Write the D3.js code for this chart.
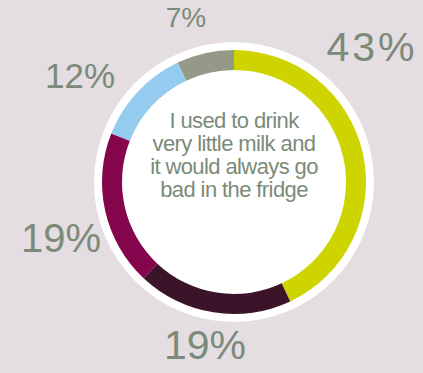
<!DOCTYPE html>
<html>
<head>
<meta charset="utf-8">
<script src="https://cdn.jsdelivr.net/npm/d3@7"></script>
<style>
  html, body { margin: 0; padding: 0; background: #e4dde2; }
  svg { display: block; }
</style>
</head>
<body>
<svg id="chart" width="423" height="373"></svg>
<script>
// Share of answers, clockwise from 12 o'clock
const values = [43, 19, 19, 12, 7];
const labels = ["43%", "19%", "19%", "12%", "7%"];
const colors = ["#cdd400", "#3c1429", "#85064c", "#95cbee", "#949a87"];
const centerLines = ["I used to drink", "very little milk and", "it would always go", "bad in the fridge"];

// label placement (x, baseline y) and font size for each percentage
const labelPos = [[372, 61], [205, 359], [61, 252], [80, 88], [186, 27]];
const labelSize = [41, 41, 40, 35, 28];

const width = 423, height = 373;
const cx = 234, cy = 182;
const rOuterWhite = 140, rOuter = 132, rInner = 112;
const textColor = "#7c8b79";

const svg = d3.select("#chart");
svg.append("rect").attr("width", width).attr("height", height).attr("fill", "#e4dde2");

const g = svg.append("g").attr("transform", `translate(${cx},${cy})`);

// white disc behind the ring
g.append("circle").attr("r", rOuterWhite).attr("fill", "#ffffff");

const pie = d3.pie().sort(null).value(d => d);
const arc = d3.arc().innerRadius(rInner).outerRadius(rOuter);

g.selectAll("path.slice")
  .data(pie(values))
  .join("path")
  .attr("class", "slice")
  .attr("d", arc)
  .attr("fill", (d, i) => colors[i]);

// centre caption
const lineH = 23;
g.append("text")
  .attr("text-anchor", "middle")
  .attr("font-family", "'Liberation Sans', Arial, sans-serif")
  .attr("font-size", 22)
  .attr("letter-spacing", -0.6)
  .attr("fill", textColor)
  .selectAll("tspan")
  .data(centerLines)
  .join("tspan")
  .attr("x", 0)
  .attr("y", (d, i) => 128 - cy + i * lineH)
  .text(d => d);

// percentage labels
svg.selectAll("text.pct")
  .data(labels)
  .join("text")
  .attr("class", "pct")
  .attr("x", (d, i) => labelPos[i][0])
  .attr("y", (d, i) => labelPos[i][1])
  .attr("text-anchor", "middle")
  .attr("font-family", "'Liberation Sans', Arial, sans-serif")
  .attr("font-size", (d, i) => labelSize[i])
  .attr("letter-spacing", (d, i) => i === 0 ? 3 : 0)
  .attr("fill", textColor)
  .text(d => d);
</script>
</body>
</html>
